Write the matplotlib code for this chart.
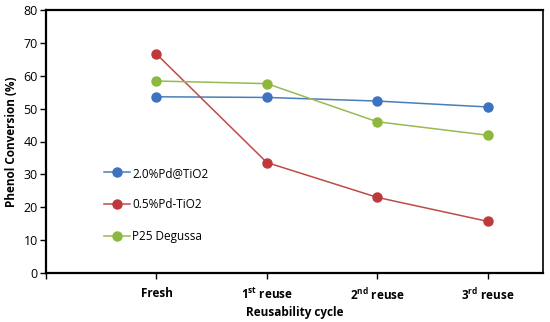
import matplotlib
matplotlib.use("Agg")
import matplotlib.pyplot as plt

plt.rcParams['font.family'] = ['Open Sans', 'DejaVu Sans']
plt.rcParams['mathtext.default'] = 'regular'

# data
cycles = ['Fresh', '1$^{st}$ reuse', '2$^{nd}$ reuse', '3$^{rd}$ reuse']
pd_20 = [53.6, 53.4, 52.3, 50.5]
pd_05 = [66.6, 33.6, 23.0, 15.7]
p25 = [58.4, 57.6, 46.0, 41.9]

series = [
    ('2.0%Pd@TiO2', pd_20, '#3C72C0', '#4A7EBB'),
    ('0.5%Pd-TiO2', pd_05, '#C0393A', '#BE4B48'),
    ('P25 Degussa', p25, '#8DB83E', '#98B954'),
]

fig = plt.figure(figsize=(5.5, 3.22), dpi=100)
ax = fig.add_axes([46/550, 1 - 273/322, (543-46)/550, (273-10)/322])

xs = [1, 2, 3, 4]
for name, vals, mc, lc in series:
    ax.plot(xs, vals, color=lc, lw=1.1, marker='o', ms=6.5,
            markerfacecolor=mc, markeredgecolor=mc, label=name)

ax.set_xlim(0, 4.5)
ax.set_ylim(0, 80)
ax.set_yticks(range(0, 81, 10))
ax.set_xticks([0] + xs)
ax.set_xticklabels([''] + cycles, fontweight='bold', fontsize=8.5)
ax.tick_params(axis='y', labelsize=9, length=4, width=1, direction='out', pad=2)
ax.tick_params(axis='x', length=4, width=1, direction='out', pad=6)

for side in ['left', 'bottom', 'top']:
    ax.spines[side].set_linewidth(1.6)
ax.spines['right'].set_linewidth(1.2)

ax.set_ylabel('Phenol Conversion (%)', fontweight='bold', fontsize=8.5, labelpad=4)
ax.set_xlabel('Reusability cycle', fontweight='bold', fontsize=8.5, labelpad=2)

leg = ax.legend(loc='upper left', bbox_to_anchor=(0.095, 0.445), frameon=False,
                fontsize=8.5, labelspacing=1.6, handlelength=2.2, handletextpad=0.2)

fig.savefig('out.png', dpi=100)
